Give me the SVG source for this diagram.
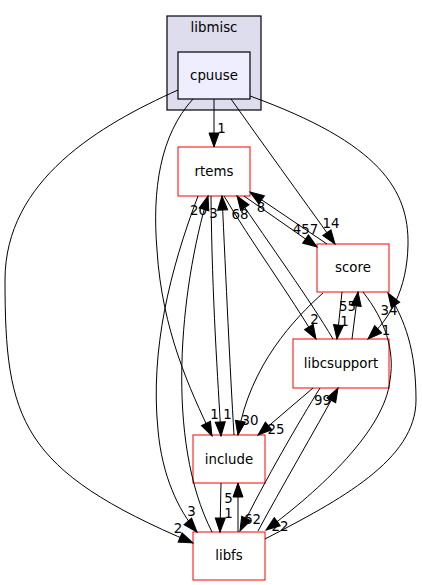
<svg xmlns="http://www.w3.org/2000/svg" width="422" height="585" viewBox="0 0 422 585">
<style>
text{font-family:"DejaVu Sans","Liberation Sans",sans-serif;font-size:13.33px;fill:#000;text-anchor:middle}
.dir{fill:#fff;stroke:#ff0000;stroke-width:1}
.e{fill:none;stroke:#000;stroke-width:1;marker-end:url(#arr)}
</style>
<defs>
<marker id="arr" markerUnits="userSpaceOnUse" markerWidth="16" markerHeight="12" refX="14" refY="5" orient="auto" overflow="visible">
<path d="M0,0 L14,5 L0,10 Z" fill="#000" stroke="#000" stroke-width="1"/>
</marker>
</defs>
<rect width="422" height="585" fill="#fff"/>
<g id="cluster_libmisc">
<rect x="167" y="16" width="94" height="94" fill="#ddddee" stroke="#000" stroke-width="1.2"/>
<text x="214" y="31.5">libmisc</text>
</g>
<g id="node_cpuuse">
<rect x="178" y="52" width="72" height="47" fill="#eeeeff" stroke="#000" stroke-width="1.2"/>
<text x="214" y="79.5">cpuuse</text>
</g>
<g id="node_rtems">
<rect class="dir" x="178" y="147" width="72" height="49"/>
<text x="214" y="175.5">rtems</text>
</g>
<g id="node_score">
<rect class="dir" x="317" y="244" width="72" height="48"/>
<text x="353" y="271.5">score</text>
</g>
<g id="node_libcsupport">
<rect class="dir" x="293" y="339" width="96" height="49"/>
<text x="341" y="367.5">libcsupport</text>
</g>
<g id="node_include">
<rect class="dir" x="193" y="435" width="72" height="48"/>
<text x="229" y="463.5">include</text>
</g>
<g id="node_libfs">
<rect class="dir" x="193" y="532" width="72" height="48"/>
<text x="229" y="559.5">libfs</text>
</g>
<g id="connectors">
<!-- cpuuse -> rtems -->
<path class="e" d="M214,99 L214,147"/>
<text x="221.5" y="133">1</text>
<!-- cpuuse -> score -->
<path class="e" d="M231,99 C260,140 300,195 335,244"/>
<text x="331" y="228">14</text>
<!-- cpuuse -> libcsupport -->
<path class="e" d="M250,96 C380,143 409,190 408,245 C407,290 390,318 368,339"/>
<text x="386" y="335">1</text>
<!-- cpuuse -> include -->
<path class="e" d="M193,99 C160,135 152,190 157,250 C162,330 190,390 212,436"/>
<text x="214.5" y="419">1</text>
<!-- cpuuse -> libfs -->
<path class="e" d="M178,90 C100,125 5,180 5,280 C5,420 20,470 193,543"/>
<text x="178" y="532.5">2</text>
<!-- rtems -> score -->
<path class="e" d="M244,196 L317,247"/>
<text x="305.5" y="234">457</text>
<!-- score -> rtems -->
<path class="e" d="M327,244 L250,192"/>
<text x="261" y="212">8</text>
<!-- rtems -> libcsupport -->
<path class="e" d="M224,196 C250,240 290,295 316,339"/>
<text x="314.5" y="324">2</text>
<!-- libcsupport -> rtems -->
<path class="e" d="M333,339 C310,300 270,245 237,196"/>
<text x="240" y="218.5">68</text>
<!-- rtems -> include -->
<path class="e" d="M211,196 C212,300 218,380 221,436"/>
<text x="227.5" y="419">1</text>
<!-- include -> rtems -->
<path class="e" d="M234,435 C230,370 226,280 222,196"/>
<text x="213.5" y="218">3</text>
<!-- rtems -> libfs -->
<path class="e" d="M198,196 C170,270 150,350 158,430 C162,475 178,510 197,532"/>
<text x="191.5" y="516">3</text>
<!-- libfs -> rtems -->
<path class="e" d="M212,532 C165,440 180,290 208,196"/>
<text x="198.5" y="215">20</text>
<!-- score -> libcsupport -->
<path class="e" d="M342,292 L337,339"/>
<text x="344.5" y="326">1</text>
<!-- libcsupport -> score -->
<path class="e" d="M352,339 L358,292"/>
<text x="347.5" y="311">55</text>
<!-- libfs -> score -->
<path class="e" d="M265,539 C340,500 416,460 416,400 C416,350 405,320 388,293"/>
<text x="389" y="315">34</text>
<!-- score -> libfs -->
<path class="e" d="M363,292 C385,320 395,350 390,380 C385,430 320,490 266,530"/>
<text x="280" y="530.5">22</text>
<!-- score -> include -->
<path class="e" d="M323,293 C295,318 250,365 238,435"/>
<text x="250" y="425">30</text>
<!-- libcsupport -> include -->
<path class="e" d="M313,388 L258,435"/>
<text x="276" y="434">25</text>
<!-- libcsupport -> libfs -->
<path class="e" d="M320,388 C300,420 265,480 240,531"/>
<text x="252.5" y="524">62</text>
<!-- libfs -> libcsupport -->
<path class="e" d="M258,531 C280,490 315,430 338,388"/>
<text x="322.5" y="405">99</text>
<!-- include -> libfs -->
<path class="e" d="M221,483 L220,532"/>
<text x="228.5" y="518">1</text>
<!-- libfs -> include -->
<path class="e" d="M238,532 L238,483"/>
<text x="228.5" y="503">5</text>
</g>
</svg>
